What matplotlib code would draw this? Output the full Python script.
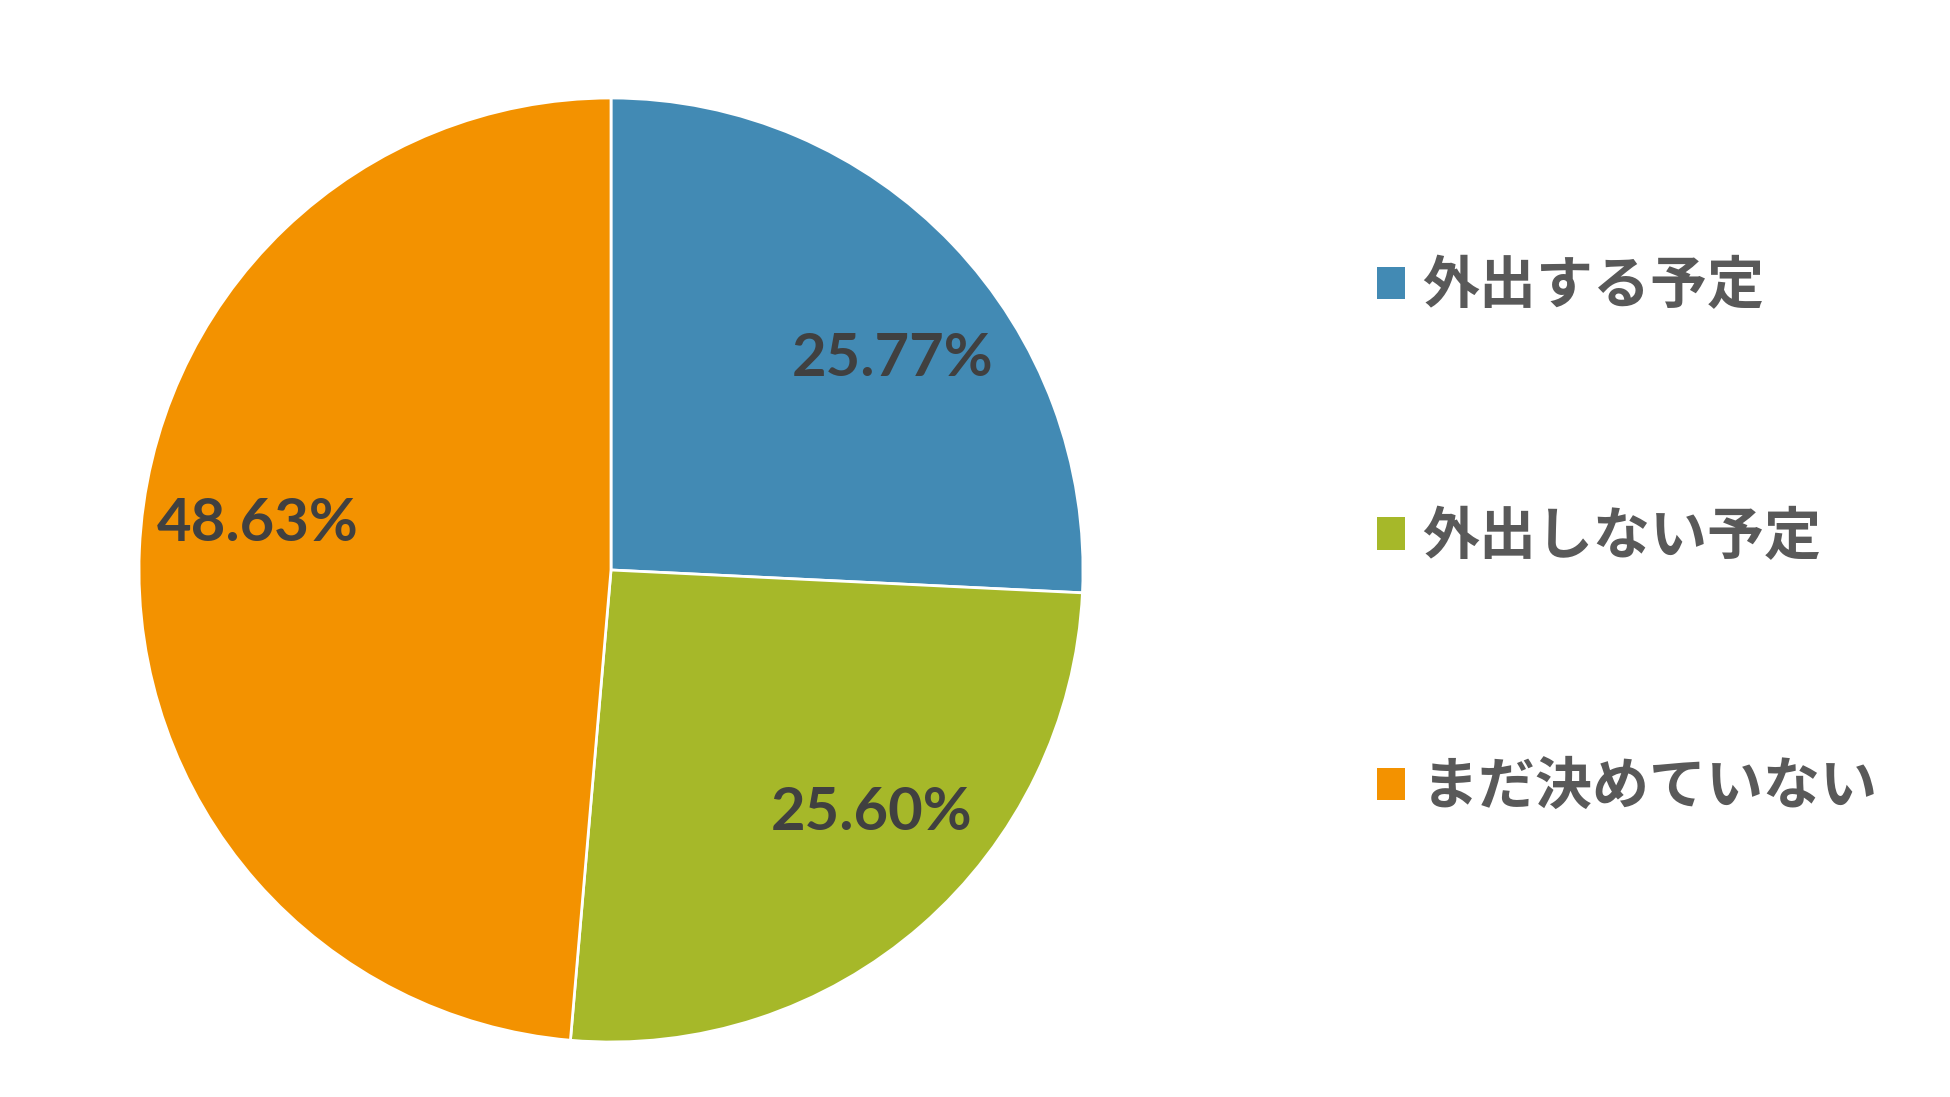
import matplotlib
matplotlib.use("Agg")
import matplotlib.pyplot as plt
from matplotlib.patches import Patch

# データ
categories = ['外出する予定', '外出しない予定', 'まだ決めていない']
values = [25.77, 25.60, 48.63]
colors = ['#428AB4', '#A6B829', '#F39200']

fig = plt.figure(figsize=(19.5, 10.97), dpi=100)
fig.patch.set_facecolor('white')

# 円グラフ
ax = fig.add_axes([139 / 1950, 55 / 1097, 944 / 1950, 944 / 1097])
wedges, texts, autotexts = ax.pie(
    values,
    colors=colors,
    startangle=90,
    counterclock=False,
    autopct='%.2f%%',
    pctdistance=0.75,
    wedgeprops=dict(edgecolor='white', linewidth=2),
    textprops=dict(fontsize=43, fontweight='bold', color='#404040', family=['Lato', 'DejaVu Sans']),
)
ax.set_xlim(-1, 1)
ax.set_ylim(-1, 1)
ax.set_aspect('equal')

# ラベルの位置 (Excel風の配置)
label_pos = [(0.596, 0.447), (0.553, -0.515), (-0.748, 0.098)]
for t, p in zip(autotexts, label_pos):
    t.set_position(p)

# 凡例
handles = [Patch(facecolor=c, edgecolor='none') for c in colors]
leg = fig.legend(
    handles, categories,
    loc='upper left',
    bbox_to_anchor=(1326 / 1950, 1 - 206 / 1097),
    frameon=False,
    handlelength=0.49,
    handleheight=0.49,
    handletextpad=0.3,
    labelspacing=3.38,
    prop=dict(family=['Noto Sans CJK JP', 'DejaVu Sans'], weight='bold', size=41),
)
for txt in leg.get_texts():
    txt.set_color('#595959')

fig.savefig('out.png', dpi=100, facecolor='white')
